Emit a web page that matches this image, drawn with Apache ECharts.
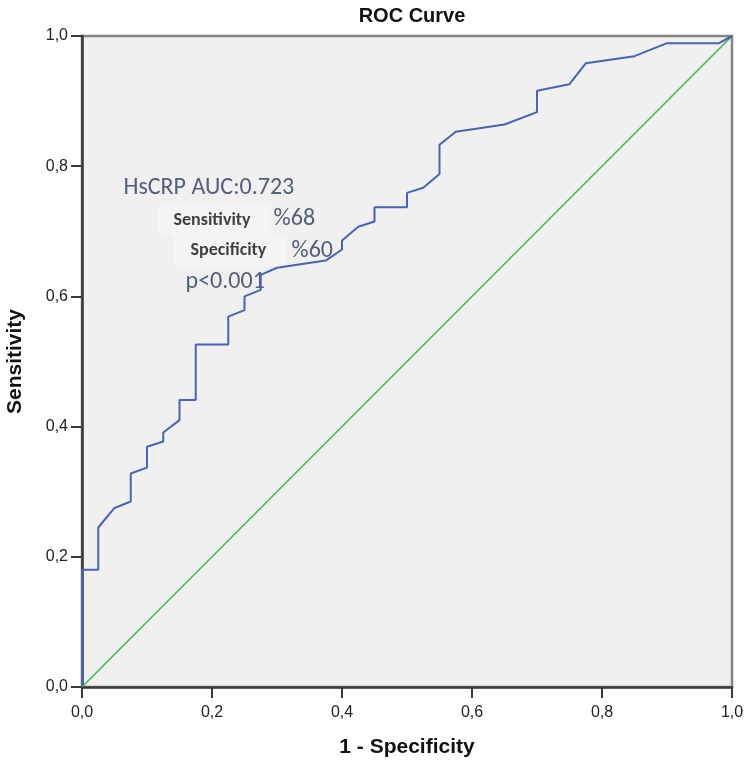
<!DOCTYPE html>
<html><head><meta charset="utf-8">
<script src="https://cdn.jsdelivr.net/npm/echarts@6/dist/echarts.min.js"></script>
<style>html,body{margin:0;padding:0;background:#fff}#c{width:750px;height:772px}</style>
</head><body><div id="c"></div>
<script>
const title = 'ROC Curve';
const xName = '1 - Specificity';
const yName = 'Sensitivity';
const tickLabels = ['0,0','0,2','0,4','0,6','0,8','1,0'];
// ROC curve points: [1 - specificity, sensitivity]
const rocX = [0,0,0.025,0.025,0.05,0.075,0.075,0.1,0.1,0.125,0.125,0.15,0.15,0.175,0.175,0.225,0.225,0.25,0.25,0.275,0.275,0.3,0.375,0.4,0.4,0.425,0.45,0.45,0.5,0.5,0.525,0.55,0.55,0.575,0.65,0.7,0.7,0.75,0.775,0.85,0.9,0.98,1];
const rocY = [0,0.18,0.18,0.245,0.275,0.285,0.328,0.337,0.369,0.377,0.391,0.41,0.441,0.441,0.526,0.526,0.569,0.579,0.6,0.61,0.633,0.644,0.655,0.672,0.686,0.707,0.715,0.737,0.737,0.759,0.767,0.788,0.833,0.853,0.864,0.883,0.916,0.926,0.958,0.969,0.989,0.989,1];
const refX = [0,1];
const refY = [0,1];
const noteText = ['HsCRP AUC:0.723','Sensitivity','%68','Specificity','%60','p<0.001'];
const noteX = [0.063,0.1154,0.294,0.14,0.3215,0.1585];
const noteY = [0.766,0.717,0.719,0.670,0.670,0.622];
const noteBold = [false,true,false,true,false,false];

const chart = echarts.init(document.getElementById('c'), null, {renderer:'canvas'});
const G = {left:82, top:36, width:650, height:651};
const tickFmt = v => tickLabels[Math.round(v/0.2)] ?? '';
const noteFont = 'Carlito, Lato, "Open Sans", sans-serif';
const axFont = '"Liberation Sans Narrow", "Liberation Sans", Arial, sans-serif';
const boxPad = [[0,0,0,0],[1,20,7,16],[0,0,0,0],[3,20,7,17],[0,0,0,0],[0,0,0,0]];
chart.setOption({
  animation:false,
  backgroundColor:'#ffffff',
  title:{text:title, left:407, top:1, textAlign:'center',
    textStyle:{fontFamily:'"Liberation Sans", Arial, sans-serif', fontWeight:'bold', fontSize:20, color:'#111'}},
  grid:{...G, outerBoundsMode:'none', containLabel:false, show:true, backgroundColor:'#f0f0f0', borderColor:'#858585', borderWidth:2.5},
  xAxis:{type:'value', min:0, max:1, interval:0.2, name:xName, nameLocation:'middle', nameGap:50,
    nameTextStyle:{fontFamily:axFont, fontWeight:'bold', fontSize:21, color:'#111'},
    axisLine:{onZero:false, lineStyle:{color:'#3a3a3a', width:2.5}},
    axisTick:{show:true, inside:false, length:11, lineStyle:{color:'#3a3a3a', width:2}},
    axisLabel:{formatter:tickFmt, fontFamily:axFont, fontSize:16, color:'#222', margin:18},
    splitLine:{show:false}},
  yAxis:{type:'value', min:0, max:1, interval:0.2, name:yName, nameLocation:'middle', nameGap:56, nameRotate:90,
    nameTextStyle:{fontFamily:axFont, fontWeight:'bold', fontSize:21, color:'#111'},
    axisLine:{onZero:false, lineStyle:{color:'#3a3a3a', width:2.5}},
    axisTick:{show:true, inside:false, length:11, lineStyle:{color:'#3a3a3a', width:2}},
    axisLabel:{formatter:tickFmt, fontFamily:axFont, fontSize:16, color:'#222', margin:14},
    splitLine:{show:false}},
  series:[
    {type:'scatter', symbol:'rect', symbolSize:1, silent:true, z:1,
      itemStyle:{color:'rgba(0,0,0,0)'},
      labelLayout:{hideOverlap:false},
      data:noteText.map((t,i)=>({value:[noteX[i],noteY[i]], label:{
        show:true, position:'right', distance:0, formatter:t,
        padding:boxPad[i], lineHeight:noteBold[i]?22:undefined,
        backgroundColor:noteBold[i]?'#f5f5f5':'transparent',
        fontFamily:noteFont, fontWeight:noteBold[i]?'bold':'normal',
        fontSize:noteBold[i]?18:24, color:noteBold[i]?'#111':'#2a3a5e'}}))},
    {type:'line', data:refX.map((x,i)=>[x,refY[i]]), symbol:'none', silent:true,
      lineStyle:{color:'#3cbf46', width:1.6}, z:2},
    {type:'line', data:rocX.map((x,i)=>[x,rocY[i]]), symbol:'none', silent:true,
      lineStyle:{color:'#4a62b8', width:2}, z:3}
  ]
});
</script></body></html>
